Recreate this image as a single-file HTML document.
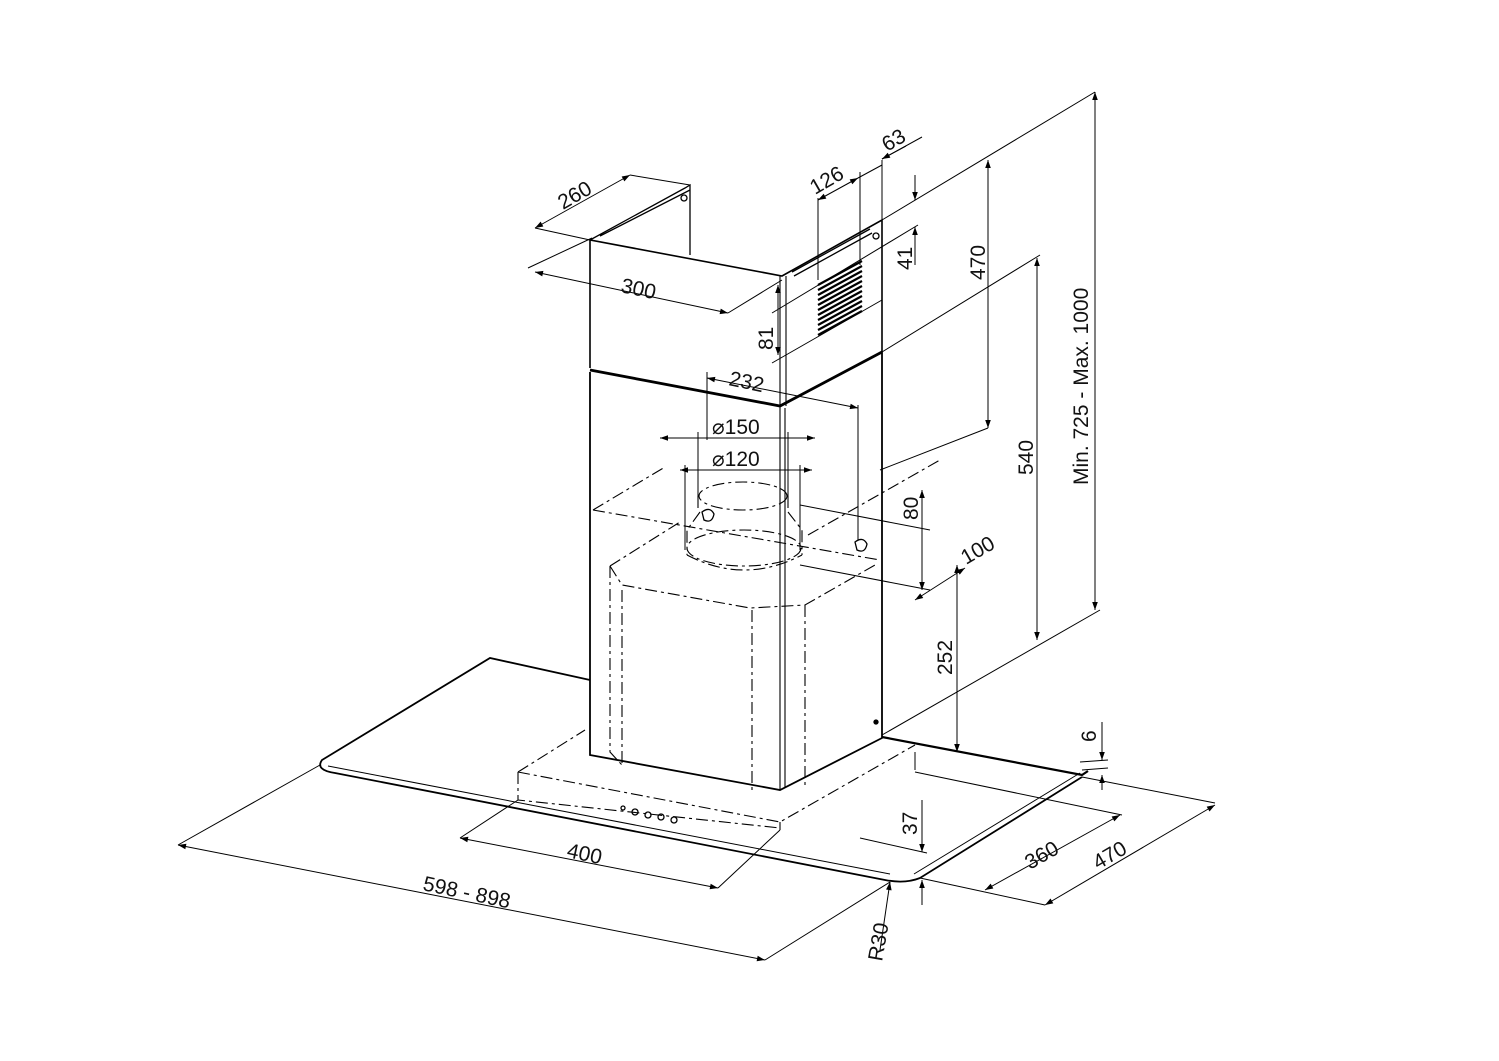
<!DOCTYPE html>
<html><head><meta charset="utf-8"><style>
html,body{margin:0;padding:0;background:#fff}
svg{display:block}
text{font-family:"Liberation Sans",sans-serif;font-size:21px;fill:#111}
</style></head><body>
<svg width="1499" height="1061" viewBox="0 0 1499 1061" xmlns="http://www.w3.org/2000/svg">
<defs>
<marker id="a" viewBox="0 0 10 10" refX="10" refY="5" markerWidth="12" markerHeight="8" orient="auto-start-reverse" markerUnits="userSpaceOnUse"><path d="M0,1.5 L10,5 L0,8.5z" fill="#000"/></marker>
</defs>
<g fill="none" stroke="#000" stroke-width="1.3">
<!-- glass -->
<path d="M590,680 L490,658 L322,760 Q315,770 335,773 L885,880 Q905,884 920,878 L1082,777" stroke-width="1.8"/>
<path d="M882,737 L1082,775 L1088,771" stroke-width="2.2"/>
<path d="M328,766 L890,874 M914,874 L1080,773" stroke-width="1"/>
<!-- lower chimney -->
<path d="M590,372 L590,755 L780,790 L882,738 L882,352" stroke-width="1.8"/>
<path d="M780,408 L780,790 M785,408 L785,788" stroke-width="1.1"/>
<path d="M590,370 L780,406 L882,352" stroke-width="2.8"/>
<!-- upper chimney -->
<path d="M590,368 L590,240 L782,276 L882,220 L882,352" stroke-width="1.6"/>
<path d="M780,276 L780,408 M786,276 L786,406" stroke-width="1.1"/>
<path d="M590,240 L685,188 L690,185 L690,255 M600,236 L690,190"/>
<path d="M792,272 L870,229 M794,276 L872,233" stroke-width="1.3"/>
<circle cx="876" cy="236" r="3"/><circle cx="684" cy="198" r="3"/>
<!-- grille -->
<g stroke-width="2.2">
<path d="M818,285 L862,261 M818,290 L862,266 M818,295 L862,271 M818,300 L862,276 M818,305 L862,281 M818,310 L862,286 M818,315 L862,291 M818,320 L862,296 M818,325 L862,301 M818,330 L862,306 M818,335 L862,311"/>
</g>
<!-- hidden lines -->
<g stroke-dasharray="12,4,3,4" stroke-width="1.1">
<path d="M593,510 L665,467 M593,510 L880,560 M808,535 L940,460"/>
<path d="M610,566 L680,522 M610,566 L622,585 L750,608 L805,605 L875,565"/>
<path d="M610,566 L610,752 L622,765 M622,590 L622,765 M752,610 L752,790 M805,605 L805,787"/>
<ellipse cx="743" cy="496" rx="44" ry="14"/>
<path d="M698,496 L698,512 M788,496 L788,512"/>
<ellipse cx="744" cy="548" rx="57" ry="18"/>
<path d="M700,512 L687,530 L687,555 M788,512 L802,530 L802,555 M687,555 Q744,585 802,555"/>
<path d="M518,772 L585,730 M518,772 L780,822 L915,745 M518,772 L518,800 L780,828 M780,822 L780,830"/>
</g>
<path d="M702,512 q8,-6 12,2 q-2,10 -10,6z M855,542 q8,-6 12,2 q-2,10 -10,6z"/>
<circle cx="623" cy="808" r="2"/><circle cx="635" cy="812" r="3"/><circle cx="648" cy="815" r="3"/><circle cx="661" cy="817" r="3"/><circle cx="674" cy="820" r="3"/>
<circle cx="876" cy="722" r="2" fill="#000"/>
</g>
<!-- dimension lines -->
<g fill="none" stroke="#000" stroke-width="1">
<path d="M535,228 L630,175" marker-start="url(#a)" marker-end="url(#a)"/>
<path d="M630,175 L690,185 M535,228 L590,240"/>
<path d="M535,272 L728,313" marker-start="url(#a)" marker-end="url(#a)"/>
<path d="M528,268 L592,238 M728,313 L782,280"/>
<path d="M818,200 L858,178" marker-start="url(#a)" marker-end="url(#a)"/>
<path d="M906,146 L882,159" marker-end="url(#a)"/>
<path d="M858,178 L882,165 M882,159 L922,137"/>
<path d="M818,198 L818,280 M860,172 L860,265 M882,160 L882,220"/>
<path d="M915,175 L915,200" marker-end="url(#a)"/><path d="M915,265 L915,227" marker-end="url(#a)"/>
<path d="M772,313 L918,225 M772,363 L882,300"/>
<path d="M778,285 L778,355" marker-start="url(#a)" marker-end="url(#a)"/>
<path d="M988,160 L988,428" marker-start="url(#a)" marker-end="url(#a)"/>
<path d="M1037,258 L1037,640" marker-start="url(#a)" marker-end="url(#a)"/>
<path d="M1095,92 L1095,610" marker-start="url(#a)" marker-end="url(#a)"/>
<path d="M882,220 L1095,92 M882,352 L1040,255 M880,470 L988,428 M882,735 L1100,610"/>
<path d="M707,378 L858,408" marker-start="url(#a)" marker-end="url(#a)"/>
<path d="M707,372 L707,440 M858,405 L858,540"/>
<path d="M660,438 L815,438" marker-start="url(#a)" marker-end="url(#a)"/>
<path d="M680,470 L812,470" marker-start="url(#a)" marker-end="url(#a)"/>
<path d="M698,432 L698,500 M788,432 L788,500 M685,465 L685,550 M800,465 L800,550"/>
<path d="M922,490 L922,590" marker-start="url(#a)" marker-end="url(#a)"/>
<path d="M800,505 L930,530 M800,565 L930,590"/>
<path d="M915,600 L965,568" marker-start="url(#a)" marker-end="url(#a)"/>
<path d="M957,565 L957,752" marker-start="url(#a)" marker-end="url(#a)"/>
<path d="M1102,722 L1102,760" marker-end="url(#a)"/><path d="M1102,790 L1102,775" marker-end="url(#a)"/>
<path d="M1080,762 L1108,760 M1082,770 L1108,768"/>
<path d="M922,800 L922,852" marker-end="url(#a)"/><path d="M922,905 L922,880" marker-end="url(#a)"/>
<path d="M985,890 L1120,815" marker-start="url(#a)" marker-end="url(#a)"/>
<path d="M1045,905 L1215,805" marker-start="url(#a)" marker-end="url(#a)"/>
<path d="M920,878 L1045,905 M1082,777 L1215,803 M915,772 L1122,815 M860,838 L927,853 M915,752 L915,770"/>
<path d="M460,838 L718,888" marker-start="url(#a)" marker-end="url(#a)"/>
<path d="M460,838 L518,800 M718,888 L780,830"/>
<path d="M178,845 L765,960" marker-start="url(#a)" marker-end="url(#a)"/>
<path d="M178,845 L320,765 M765,960 L890,882"/>
<path d="M880,950 L890,882" marker-end="url(#a)"/>
</g>
<text transform="translate(563,210) rotate(-30)">260</text>
<text transform="translate(620,292) rotate(12)">300</text>
<text transform="translate(815,195) rotate(-30)">126</text>
<text transform="translate(887,152) rotate(-30)">63</text>
<text transform="translate(912,270) rotate(-90)">41</text>
<text transform="translate(773,350) rotate(-90)">81</text>
<text transform="translate(985,280) rotate(-90)">470</text>
<text transform="translate(1033,475) rotate(-90)">540</text>
<text transform="translate(1088,485) rotate(-90)">Min. 725 - Max. 1000</text>
<text transform="translate(728,385) rotate(12)">232</text>
<text x="712" y="434">⌀150</text>
<text x="712" y="466">⌀120</text>
<text transform="translate(918,520) rotate(-90)">80</text>
<text transform="translate(966,565) rotate(-30)">100</text>
<text transform="translate(952,675) rotate(-90)">252</text>
<text transform="translate(1096,742) rotate(-90)">6</text>
<text transform="translate(917,835) rotate(-90)">37</text>
<text transform="translate(1030,870) rotate(-30)">360</text>
<text transform="translate(1098,870) rotate(-30)">470</text>
<text transform="translate(566,857) rotate(12)">400</text>
<text transform="translate(422,890) rotate(12)">598 - 898</text>
<text transform="translate(882,962) rotate(-80)">R30</text>
</svg>
</body></html>
